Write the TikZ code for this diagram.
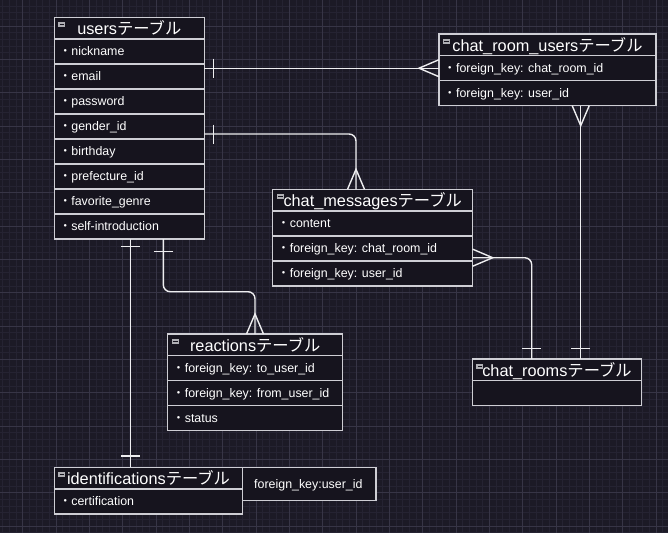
\documentclass[tikz,border=0pt]{standalone}
\usepackage{fontspec}
\setmainfont{Liberation Sans}
\newfontfamily\cjk{Noto Sans CJK JP}
\usetikzlibrary{calc,positioning}

\definecolor{bgcol}{RGB}{28,26,38}
\definecolor{gridmin}{RGB}{37,35,50}
\definecolor{gridmaj}{RGB}{55,53,70}
\definecolor{boxfill}{RGB}{22,20,30}
\definecolor{boxline}{RGB}{206,206,212}
\definecolor{linkcol}{RGB}{238,238,240}
\definecolor{iconcol}{RGB}{175,175,180}

\newcommand{\tbl}{{\cjk テーブル}}
\newcommand{\itm}{{\cjk ・}}

\tikzset{
  tabbox/.style={draw=boxline, line width=1.2pt, fill=boxfill, inner sep=0pt, outer sep=0pt, anchor=north west},
  tabtitle/.style={text=white, font=\fontsize{16.3}{16}\selectfont, anchor=base, inner sep=0pt},
  tabrow/.style={text=white, font=\fontsize{12.4}{13}\selectfont, anchor=base west, inner sep=0pt},
  conn/.style={draw=linkcol, line width=1.4pt},
  crowfoot/.pic={\draw[conn] (0,-8.5) -- (20,0) -- (0,8.5);},
  hbar/.pic={\draw[conn] (-9.5,0) -- (9.5,0);},
  vbar/.pic={\draw[conn] (0,-9.5) -- (0,9.5);},
}

% name, x, y, width, title, rows
\newcommand{\ertable}[6]{%
  \node[tabbox, minimum width=#4pt, minimum height=21.7pt] (#1) at (#2,#3) {};
  \fill[iconcol] ($(#1.north west)+(4,5)$) rectangle ++(7,5);
  \draw[boxfill, line width=1pt] ($(#1.north west)+(5.2,7.5)$) -- ++(4.6,0);
  \node[tabtitle] at ($(#1.center)+(0,6.5)$) {#5\tbl};
  \foreach \rowtxt [count=\i] in {#6} {
    \node[tabbox, minimum width=#4pt, minimum height=25pt] (#1-\i) at (#2,{#3+21.7+25*(\i-1)}) {};
    \node[tabrow] at ($(#1-\i.west)+(4.5,4)$) {\rowtxt};
  }
}

\begin{document}
\begin{tikzpicture}[x=1pt,y=-1pt]
  \useasboundingbox (0,0) rectangle (668,533);
  \fill[bgcol] (0,0) rectangle (668,533);
  % grid
  \foreach \k in {0,...,99} {\draw[gridmin, line width=0.5pt] ({2.7+\k*6.6667},0) -- ++(0,533);}
  \foreach \k in {0,...,80} {\draw[gridmin, line width=0.5pt] (0,{6+\k*6.6667}) -- ++(668,0);}
  \foreach \k in {0,...,19} {\draw[gridmaj, line width=0.8pt] ({22.7+\k*33.333},0) -- ++(0,533);}
  \foreach \k in {0,...,15} {\draw[gridmaj, line width=0.8pt] (0,{26+\k*33.333}) -- ++(668,0);}

  % tables
  \ertable{users}{54.3}{17.3}{150}{users}{\itm nickname, \itm email, \itm password, \itm gender\_id, \itm birthday, \itm prefecture\_id, \itm favorite\_genre, \itm self-introduction}
  \ertable{cru}{439}{34}{217}{chat\_room\_users}{\itm foreign\_key: chat\_room\_id, \itm foreign\_key: user\_id}
  \ertable{cm}{272.7}{189.3}{200}{chat\_messages}{\itm content, \itm foreign\_key: chat\_room\_id, \itm foreign\_key: user\_id}
  \ertable{re}{167.7}{334}{175}{reactions}{\itm foreign\_key: to\_user\_id, \itm foreign\_key: from\_user\_id, \itm status}
  \ertable{cr}{472.3}{359}{169.4}{chat\_rooms}{\relax}
  \ertable{ids}{54.3}{467.3}{188.4}{identifications}{\itm certification}
  \node[tabbox, minimum width=133.3pt, minimum height=33pt] (fk) at (ids.north east) {};
  \node[tabrow, anchor=base] at ($(fk.center)+(-1,4.5)$) {foreign\_key:user\_id};

  % users -- chat_room_users
  \coordinate (u1) at (cru-1.west -| users-1.east);
  \draw[conn] (u1) -- (cru-1.west);
  \pic at ($(u1)+(9,0)$) {vbar};
  \pic[rotate=180] at (cru-1.west) {crowfoot};

  % users -- chat_messages
  \coordinate (u2) at ($(users-4.south east)+(0,-5)$);
  \coordinate (cmtop) at ($(cm.north west)+(83.3,0)$);
  \draw[conn, rounded corners=7pt] (u2) -- (u2 -| cmtop) -- (cmtop);
  \pic at ($(u2)+(9,0)$) {vbar};
  \pic[rotate=90] at (cmtop) {crowfoot};

  % users -- reactions
  \coordinate (u3) at ($(users-8.south west)+(109,0)$);
  \coordinate (retop) at ($(re.north west)+(87.3,0)$);
  \draw[conn, rounded corners=7pt] (u3) -- ($(u3)+(0,52.7)$) -- ($(retop)+(0,-42.3)$) -- (retop);
  \pic at ($(u3)+(0,12.7)$) {hbar};
  \pic[rotate=90] at (retop) {crowfoot};

  % users -- identifications
  \coordinate (u4) at ($(users-8.south west)+(76.4,0)$);
  \draw[conn] (u4) -- (u4 |- ids.north);
  \pic at ($(u4)+(0,7.7)$) {hbar};
  \pic at ($(u4 |- ids.north)+(0,-11.3)$) {hbar};

  % chat_messages -- chat_rooms
  \coordinate (cmr) at ($(cm-2.south east)+(0,-3.3)$);
  \coordinate (crtop1) at ($(cr.north west)+(59.4,0)$);
  \draw[conn, rounded corners=7pt] (cmr) -- (cmr -| crtop1) -- (crtop1);
  \pic at (cmr) {crowfoot};
  \pic at ($(crtop1)+(0,-10.7)$) {hbar};

  % chat_room_users -- chat_rooms
  \coordinate (crub) at ($(cru-2.south west)+(141.7,0)$);
  \draw[conn] (crub) -- (crub |- cr.north);
  \pic[rotate=-90] at (crub) {crowfoot};
  \pic at ($(crub |- cr.north)+(0,-10.7)$) {hbar};
\end{tikzpicture}
\end{document}
